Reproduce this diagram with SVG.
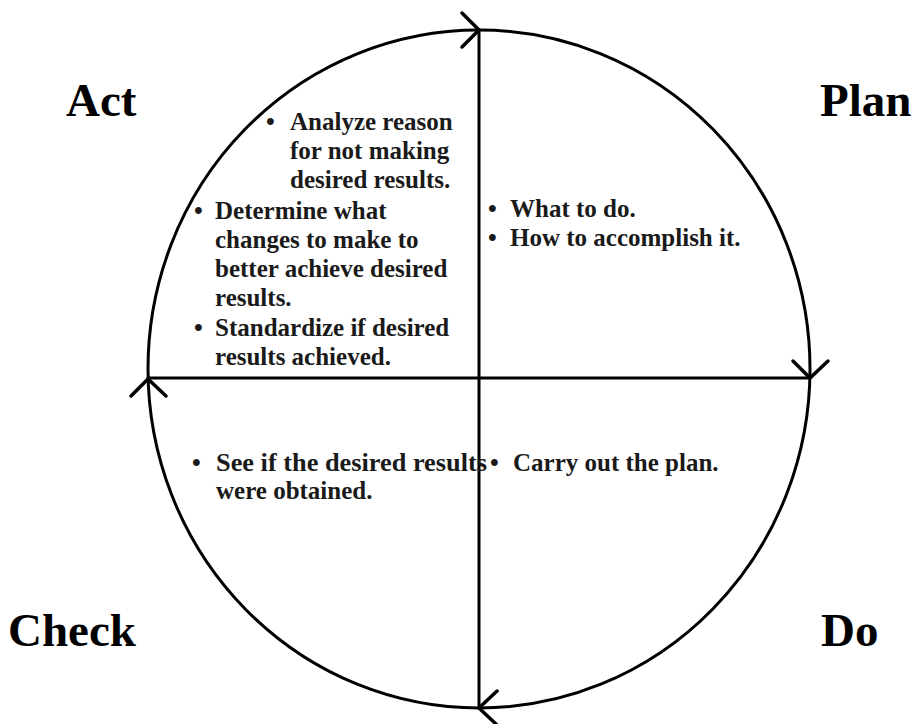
<svg xmlns="http://www.w3.org/2000/svg" width="917" height="724" viewBox="0 0 917 724">
<style>
.ln{fill:none;stroke:#000;stroke-width:3;stroke-linecap:round;stroke-linejoin:round}
.ar{fill:none;stroke:#000;stroke-width:3.5;stroke-linecap:round;stroke-linejoin:miter}
.title{font-family:"Liberation Serif","Times New Roman",serif;font-weight:bold;font-size:47px;fill:#000}
.body{font-family:"Liberation Serif","Times New Roman",serif;font-weight:bold;font-size:25px;fill:#1a1a1a}
</style>
<rect width="917" height="724" fill="#fff"/>
<g id="connectors">
<ellipse class="ln" cx="479" cy="369" rx="331" ry="339"/>
<line class="ln" x1="479" y1="30" x2="479" y2="708"/>
<line class="ln" x1="148" y1="378" x2="810" y2="378"/>
<path class="ar" d="M462,13 L479,30 L462,47"/>
<path class="ar" d="M793,361 L810,378 L828,361"/>
<path class="ar" d="M497,691 L479,708 L497,725"/>
<path class="ar" d="M131,396 L148,379 L166,396"/>
</g>
<g id="act">
<text class="title" x="66" y="116">Act</text>
<text class="body">
<tspan x="266" y="130">•</tspan><tspan x="290" y="130">Analyze reason</tspan>
<tspan x="290" y="159">for not making</tspan>
<tspan x="290" y="188">desired results.</tspan>
<tspan x="194" y="219">•</tspan><tspan x="215" y="219">Determine what</tspan>
<tspan x="215" y="248">changes to make to</tspan>
<tspan x="215" y="277">better achieve desired</tspan>
<tspan x="215" y="306">results.</tspan>
<tspan x="194" y="336">•</tspan><tspan x="215" y="336">Standardize if desired</tspan>
<tspan x="215" y="365">results achieved.</tspan>
</text>
</g>
<g id="plan">
<text class="title" x="820" y="116">Plan</text>
<text class="body">
<tspan x="488" y="217">•</tspan><tspan x="510" y="217">What to do.</tspan>
<tspan x="488" y="246">•</tspan><tspan x="510" y="246">How to accomplish it.</tspan>
</text>
</g>
<g id="check">
<text class="title" x="8" y="646">Check</text>
<text class="body">
<tspan x="192" y="471">•</tspan>
</text>
<text class="body" x="216" y="471" textLength="271" lengthAdjust="spacingAndGlyphs">See if the desired results</text>
<text class="body" x="216" y="499">were obtained.</text>
</g>
<g id="do">
<text class="title" x="821" y="646">Do</text>
<text class="body">
<tspan x="490" y="471">•</tspan><tspan x="513" y="471">Carry out the plan.</tspan>
</text>
</g>
</svg>
